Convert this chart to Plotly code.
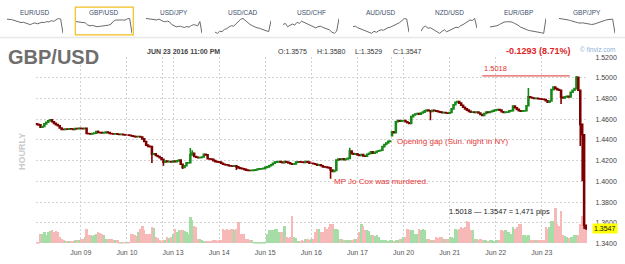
import plotly.graph_objects as go

# ---------------- data (hourly GBP/USD closes, ET) ----------------
jun08 = [1.4550, 1.4545, 1.4522, 1.4530, 1.4555, 1.4570, 1.4585, 1.4594, 1.4575, 1.4560, 1.4548, 1.4536,
         1.4515, 1.4502, 1.4500, 1.4505, 1.4503, 1.4508, 1.4506, 1.4502, 1.4510, 1.4507, 1.4512]
jun09 = [1.4510, 1.4508, 1.4512, 1.4462, 1.4460, 1.4458, 1.4462, 1.4465, 1.4480, 1.4472, 1.4470, 1.4468,
         1.4470, 1.4476, 1.4470, 1.4462, 1.4460, 1.4458, 1.4460, 1.4455, 1.4452, 1.4455, 1.4450, 1.4448]
jun10 = [1.4448, 1.4445, 1.4440, 1.4435, 1.4432, 1.4430, 1.4432, 1.4428, 1.4410, 1.4385, 1.4350, 1.4338,
         1.4335, 1.4262, 1.4265, 1.4250, 1.4240, 1.4228]
sun12 = [1.4212, 1.4185, 1.4195, 1.4190, 1.4192, 1.4188]
jun13 = [1.4195, 1.4190, 1.4198, 1.4205, 1.4165, 1.4135, 1.4150, 1.4178, 1.4180, 1.4255, 1.4270, 1.4240,
         1.4232, 1.4228, 1.4230, 1.4235, 1.4262, 1.4255, 1.4218, 1.4215, 1.4212, 1.4200, 1.4190, 1.4188]
jun14 = [1.4185, 1.4175, 1.4165, 1.4160, 1.4158, 1.4150, 1.4148, 1.4145, 1.4150, 1.4140, 1.4130, 1.4125,
         1.4122, 1.4115, 1.4108, 1.4105, 1.4104, 1.4106, 1.4108, 1.4112, 1.4118, 1.4120, 1.4122, 1.4125]
jun15 = [1.4135, 1.4140, 1.4150, 1.4160, 1.4175, 1.4185, 1.4188, 1.4190, 1.4185, 1.4180, 1.4192, 1.4185,
         1.4178, 1.4170, 1.4165, 1.4168, 1.4185, 1.4188, 1.4186, 1.4185, 1.4182, 1.4190, 1.4185, 1.4175]
jun16 = [1.4175, 1.4170, 1.4165, 1.4155, 1.4160, 1.4150, 1.4140, 1.4138, 1.4135, 1.4130, 1.4110, 1.4095,
         1.4105, 1.4205, 1.4215, 1.4212, 1.4218, 1.4210, 1.4215, 1.4222, 1.4292, 1.4268, 1.4262, 1.4265]
jun17 = [1.4255, 1.4250, 1.4258, 1.4245, 1.4242, 1.4262, 1.4270, 1.4285, 1.4272, 1.4280, 1.4290, 1.4295,
         1.4300, 1.4335, 1.4355, 1.4370, 1.4386, 1.4388]
sun19 = [1.4478, 1.4470, 1.4575, 1.4588, 1.4580, 1.4585]
jun20 = [1.4588, 1.4575, 1.4565, 1.4558, 1.4625, 1.4640, 1.4650, 1.4655, 1.4648, 1.4660, 1.4668, 1.4680,
         1.4688, 1.4682, 1.4675, 1.4685, 1.4682, 1.4678, 1.4672, 1.4668, 1.4662, 1.4665, 1.4660, 1.4658]
jun21 = [1.4665, 1.4700, 1.4740, 1.4762, 1.4770, 1.4755, 1.4735, 1.4715, 1.4700, 1.4688, 1.4675, 1.4668,
         1.4670, 1.4665, 1.4668, 1.4660, 1.4645, 1.4635, 1.4655, 1.4668, 1.4665, 1.4672, 1.4678, 1.4685]
jun22 = [1.4690, 1.4692, 1.4688, 1.4672, 1.4665, 1.4668, 1.4670, 1.4680, 1.4683, 1.4728, 1.4710, 1.4695,
         1.4682, 1.4678, 1.4680, 1.4682, 1.4730, 1.4815, 1.4810, 1.4805, 1.4800, 1.4802, 1.4798, 1.4795]
jun23 = [1.4792, 1.4790, 1.4778, 1.4765, 1.4775, 1.4885, 1.4910, 1.4895, 1.4885, 1.4880, 1.4812, 1.4805,
         1.4815, 1.4820, 1.4815, 1.4860, 1.4880, 1.4895, 1.5005, 1.4880, 1.4550, 1.4450, 1.3575, 1.3547]

first_open = 1.4555
week_open_jun19 = 1.4440
# notable shadows: bar index -> value
high_marks = {32: 1.4490, 80: 1.4323, 81: 1.4300, 163: 1.4325, 256: 1.4900, 281: 1.5018, 286: 1.3580}
low_marks = {2: 1.4515, 60: 1.4178, 66: 1.4150, 76: 1.4120, 104: 1.4110, 153: 1.4025, 205: 1.4590,
             273: 1.4747, 283: 1.4340, 284: 1.4000, 285: 1.3540, 286: 1.3529}

# hourly volume (relative units)
vol08 = [5, 5, 30, 28, 35, 25, 35, 38, 40, 36, 38, 35, 20, 15, 12, 8, 8, 7, 8, 8, 10, 10, 10]
vol09 = [15, 15, 20, 45, 25, 25, 22, 25, 30, 35, 32, 30, 25, 15, 15, 14, 15, 12, 12, 10, 5, 5, 4, 5]
vol10 = [5, 5, 30, 28, 25, 22, 35, 45, 55, 40, 30, 28, 30, 50, 48, 20, 18, 10]
vol12 = [8, 10, 12, 20, 18, 20]
vol13 = [30, 45, 35, 40, 42, 40, 38, 35, 30, 80, 72, 55, 50, 15, 15, 12, 8, 8, 7, 8, 8, 10, 10, 9]
vol14 = [10, 12, 45, 40, 45, 42, 45, 45, 40, 45, 65, 30, 28, 30, 15, 15, 12, 12, 5, 5, 5, 4, 5, 5]
vol15 = [5, 30, 40, 42, 40, 45, 45, 35, 35, 35, 55, 20, 18, 20, 85, 20, 18, 8, 8, 10, 8, 15, 15, 12]
vol16 = [15, 15, 35, 45, 45, 35, 35, 50, 45, 50, 60, 60, 45, 45, 40, 15, 15, 12, 10, 10, 12, 10, 15, 15]
vol17 = [15, 35, 60, 55, 40, 40, 38, 25, 25, 22, 25, 20, 10, 10, 12, 10, 8, 10]
vol19 = [10, 8, 10, 12, 15, 15]
vol20 = [20, 20, 45, 42, 40, 40, 30, 30, 45, 42, 45, 40, 15, 15, 12, 10, 10, 20, 18, 20, 20, 15, 15, 15]
vol21 = [20, 20, 18, 45, 42, 45, 50, 48, 50, 70, 65, 40, 40, 15, 15, 12, 15, 10, 10, 10, 8, 10, 10, 8]
vol22 = [10, 10, 10, 40, 38, 40, 35, 35, 30, 50, 45, 50, 60, 60, 25, 25, 22, 25, 12, 12, 10, 12, 12, 10]
vol23 = [10, 10, 50, 45, 50, 70, 68, 110, 60, 55, 100, 25, 22, 20, 18, 20, 20, 25, 25, 25, 60, 85, 55, 40]

day_labels = ["Jun 09", "Jun 10", "Jun 13", "Jun 14", "Jun 15", "Jun 16", "Jun 17",
              "Jun 20", "Jun 21", "Jun 22", "Jun 23"]
price_ticks = [1.34, 1.36, 1.38, 1.40, 1.42, 1.44, 1.46, 1.48, 1.50, 1.52]

# mini charts strip
mini_names = ["EUR/USD", "GBP/USD", "USD/JPY", "USD/CAD", "USD/CHF", "AUD/USD", "NZD/USD", "EUR/GBP", "GBP/JPY"]
eurusd = [1.1395, 1.1400, 1.1385, 1.1360, 1.1340, 1.1310, 1.1290, 1.1300, 1.1270, 1.1240, 1.1225, 1.1260,
          1.1280, 1.1250, 1.1275, 1.1300, 1.1290, 1.1320, 1.1310, 1.1350, 1.1330, 1.1380, 1.1420, 1.1400, 1.0950]
usdjpy = [107.0, 106.9, 106.8, 106.9, 106.7, 106.5, 106.8, 106.4, 106.0, 105.9, 106.1, 105.8, 104.9, 104.6,
          104.2, 104.3, 104.4, 104.1, 104.0, 104.3, 104.1, 104.6, 104.9, 104.8, 104.5, 106.0, 102.0]
usdcad = [1.2680, 1.2650, 1.2700, 1.2690, 1.2740, 1.2760, 1.2800, 1.2830, 1.2820, 1.2870, 1.2920, 1.2980,
          1.3000, 1.2950, 1.2920, 1.2860, 1.2830, 1.2800, 1.2780, 1.2770, 1.2750, 1.2720, 1.2700, 1.2690, 1.2950]
usdchf = [0.9640, 0.9660, 0.9600, 0.9620, 0.9650, 0.9630, 0.9680, 0.9660, 0.9700, 0.9680, 0.9660, 0.9650,
          0.9620, 0.9600, 0.9580, 0.9600, 0.9610, 0.9590, 0.9570, 0.9560, 0.9540, 0.9500, 0.9480, 0.9520, 0.9750]
audusd = [0.7440, 0.7450, 0.7420, 0.7400, 0.7380, 0.7360, 0.7340, 0.7320, 0.7310, 0.7350, 0.7330, 0.7360,
          0.7380, 0.7370, 0.7400, 0.7420, 0.7430, 0.7450, 0.7470, 0.7500, 0.7520, 0.7560, 0.7600, 0.7590, 0.7330]
nzdusd = [0.7020, 0.7100, 0.7120, 0.7080, 0.7090, 0.7060, 0.7040, 0.7000, 0.6980, 0.7020, 0.7050, 0.7010,
          0.7030, 0.7060, 0.7070, 0.7100, 0.7090, 0.7130, 0.7150, 0.7180, 0.7200, 0.7240, 0.7230, 0.7270, 0.7080]
eurgbp = [0.7820, 0.7830, 0.7840, 0.7860, 0.7900, 0.7950, 0.7980, 0.7990, 0.8000, 0.7990, 0.7960, 0.7930,
          0.7880, 0.7820, 0.7780, 0.7740, 0.7720, 0.7700, 0.7690, 0.7680, 0.7670, 0.7650, 0.7630, 0.7610, 0.8100]
gbpjpy = [155.8, 155.5, 155.3, 154.8, 154.0, 153.2, 152.0, 151.5, 150.8, 150.2, 150.6, 150.0, 149.5, 148.9,
          148.6, 149.0, 150.0, 151.0, 152.5, 153.0, 153.8, 154.5, 155.2, 155.0, 138.0]

# ---------------- build series ----------------
days = [jun08, jun09, jun10, sun12, jun13, jun14, jun15, jun16, jun17, sun19, jun20, jun21, jun22, jun23]
vols = [vol08, vol09, vol10, vol12, vol13, vol14, vol15, vol16, vol17, vol19, vol20, vol21, vol22, vol23]
for d, v in zip(days, vols):
    assert len(d) == len(v), (len(d), len(v))
closes = [c for d in days for c in d]
volume = [v for d in vols for v in d]
n = len(closes)
xs = list(range(n))

starts = []
acc = 0
for d in days:
    starts.append(acc)
    acc += len(d)
label_idx = [starts[i] for i in (1, 2, 4, 5, 6, 7, 8, 10, 11, 12, 13)]
week_seps = [starts[3] + 0.5, starts[9] - 0.5]

opens = [first_open] + closes[:-1]
opens[starts[9]] = week_open_jun19
highs = [high_marks.get(i, max(o, c)) for i, (o, c) in enumerate(zip(opens, closes))]
lows = [low_marks.get(i, min(o, c)) for i, (o, c) in enumerate(zip(opens, closes))]

W, H = 625, 264
def px(x):
    return x / W
def py(y):
    return 1 - y / H

fig = go.Figure()

vcol = ['#a6dca6' if c >= o else '#f7b8b8' for o, c in zip(opens, closes)]
fig.add_trace(go.Bar(x=xs, y=volume, marker=dict(color=vcol, line=dict(width=0)), width=0.95,
                     xaxis='x', yaxis='y', hoverinfo='skip'))
fig.add_trace(go.Candlestick(x=xs, open=opens, high=highs, low=lows, close=closes,
                             xaxis='x', yaxis='y2',
                             increasing=dict(line=dict(color='#168816', width=1.6), fillcolor='#36b536'),
                             decreasing=dict(line=dict(color='#7d0000', width=1.6), fillcolor='#b00000'),
                             whiskerwidth=0))

# mini charts
gbp_spark = closes[::12] + [closes[-1]]
mini_data = [eurusd, gbp_spark, usdjpy, usdcad, usdchf, audusd, nzdusd, eurgbp, gbpjpy]
mini_centers = [35, 104, 174, 243, 311, 381, 449, 518, 587]
gridc = '#d2d2d2'
layout_axes = {}
for k, (vals, cx) in enumerate(zip(mini_data, mini_centers)):
    ax = k + 3
    fig.add_trace(go.Scatter(x=list(range(len(vals))), y=vals, mode='lines',
                             line=dict(color='#6a6a6a', width=1),
                             xaxis=f'x{ax}', yaxis=f'y{ax}', hoverinfo='skip'))
    layout_axes[f'xaxis{ax}'] = dict(domain=[px(cx - 28), px(cx + 28)], anchor=f'y{ax}', visible=False)
    layout_axes[f'yaxis{ax}'] = dict(domain=[py(31), py(14)], anchor=f'x{ax}', visible=False)

ann = []
for name, cx in zip(mini_names, mini_centers):
    ann.append(dict(text=name, x=px(cx), y=py(9.2), xref='paper', yref='paper', showarrow=False,
                    xanchor='center', yanchor='middle', font=dict(size=6.5, color='#3e4f6c')))

last_o, last_h, last_l, last_c = opens[-1], highs[-1], lows[-1], closes[-1]
ann += [
    dict(text='<b>GBP/USD</b>', x=px(6), y=py(54), font=dict(size=20, color='#6e6e6e')),
    dict(text='<b>JUN 23 2016 11:00 PM</b>', x=px(145), y=py(49), font=dict(size=7, color='#444444')),
    dict(text=f'O:{last_o:.4f}', x=px(276), y=py(49), font=dict(size=7, color='#333333')),
    dict(text=f'H:{last_h:.4f}', x=px(315), y=py(49), font=dict(size=7, color='#333333')),
    dict(text=f'L:{last_l:.4f}', x=px(353), y=py(49), font=dict(size=7, color='#333333')),
    dict(text=f'C:{last_c:.4f}', x=px(391), y=py(49), font=dict(size=7, color='#333333')),
    dict(text='<b>-0.1293 (8.71%)</b>', x=px(504), y=py(48), font=dict(size=9, color='#e02424')),
    dict(text='© finviz.com', x=px(578), y=py(47), font=dict(size=6.5, color='#8db2d8')),
    dict(text='<b>HOURLY</b>', x=px(22), y=py(152), xanchor='center', textangle=-90,
         font=dict(size=9, color='#cccccc')),
]
for a in ann[len(mini_names):]:
    a.setdefault('xref', 'paper'); a.setdefault('yref', 'paper'); a.setdefault('showarrow', False)
    a.setdefault('xanchor', 'left'); a.setdefault('yanchor', 'middle')

peak = max(highs)
ann += [
    dict(text=f'{peak:.4f}', x=232, y=peak, xref='x', yref='y2', xanchor='left', yanchor='bottom',
         showarrow=False, yshift=1, font=dict(size=7.5, color='#e03030')),
    dict(text='Opening gap (Sun. night in NY)', x=186.3, y=1.4388, xref='x', yref='y2', xanchor='left',
         yanchor='middle', showarrow=False, font=dict(size=8, color='#e53535')),
    dict(text='MP Jo Cox was murdered.', x=154.0, y=1.3997, xref='x', yref='y2', xanchor='left',
         yanchor='middle', showarrow=False, font=dict(size=8, color='#e53535')),
    dict(text=f'{peak:.4f} — {last_c:.4f} = {round((peak - last_c) * 10000):,} pips', x=213.5, y=1.3710,
         xref='x', yref='y2', xanchor='left', yanchor='middle', showarrow=False,
         font=dict(size=7.5, color='#222222')),
    dict(text=f'{last_c:.4f}', x=px(591.5), y=last_c, xref='paper', yref='y2', xanchor='left',
         yanchor='middle', showarrow=False, bgcolor='#ffff00', borderpad=1,
         font=dict(size=7, color='#111111')),
]

shapes = [
    dict(type='line', xref='x', yref='y2', x0=232, x1=277.5, y0=peak, y1=peak,
         line=dict(color='#e03030', width=1)),
    dict(type='rect', xref='paper', yref='paper', x0=px(75.3), x1=px(133.3), y0=py(31.7), y1=py(3.3),
         line=dict(color='#f0c020', width=1.2)),
    dict(type='line', xref='paper', yref='paper', x0=0, x1=1, y0=py(34.3), y1=py(34.3),
         line=dict(color='#e8e8e8', width=1.5)),
]

x_tickvals = [-0.5] + label_idx + week_seps + [n - 0.5]
x_ticktext = [''] + day_labels + ['', ''] + ['']

fig.update_layout(
    width=W, height=H, margin=dict(l=0, r=0, t=0, b=0),
    paper_bgcolor='white', plot_bgcolor='white', showlegend=False,
    font=dict(family='Liberation Sans, Arial, sans-serif'),
    bargap=0,
    xaxis=dict(domain=[px(35.7), px(587)], range=[-0.5, n - 0.5], anchor='y',
               tickmode='array', tickvals=x_tickvals, ticktext=x_ticktext,
               showgrid=True, gridcolor=gridc, griddash='2px,2px', gridwidth=1,
               zeroline=False, showline=False, ticks='outside', ticklen=2,
               tickcolor='rgba(0,0,0,0)', tickfont=dict(size=7, color='#555555'),
               rangeslider=dict(visible=False), fixedrange=True),
    yaxis=dict(domain=[py(246), py(54.5)], range=[0, 575], visible=False, showgrid=False),
    yaxis2=dict(overlaying='y', side='right', anchor='x', range=[1.34, 1.52],
                tickmode='array', tickvals=price_ticks, tickformat='.4f',
                showgrid=True, gridcolor=gridc, griddash='2px,2px', gridwidth=1,
                zeroline=False, showline=False, ticks='outside', ticklen=6,
                tickcolor='rgba(0,0,0,0)', tickfont=dict(size=7, color='#444444')),
    annotations=ann, shapes=shapes,
    **layout_axes,
)

fig.write_html('out.html')
